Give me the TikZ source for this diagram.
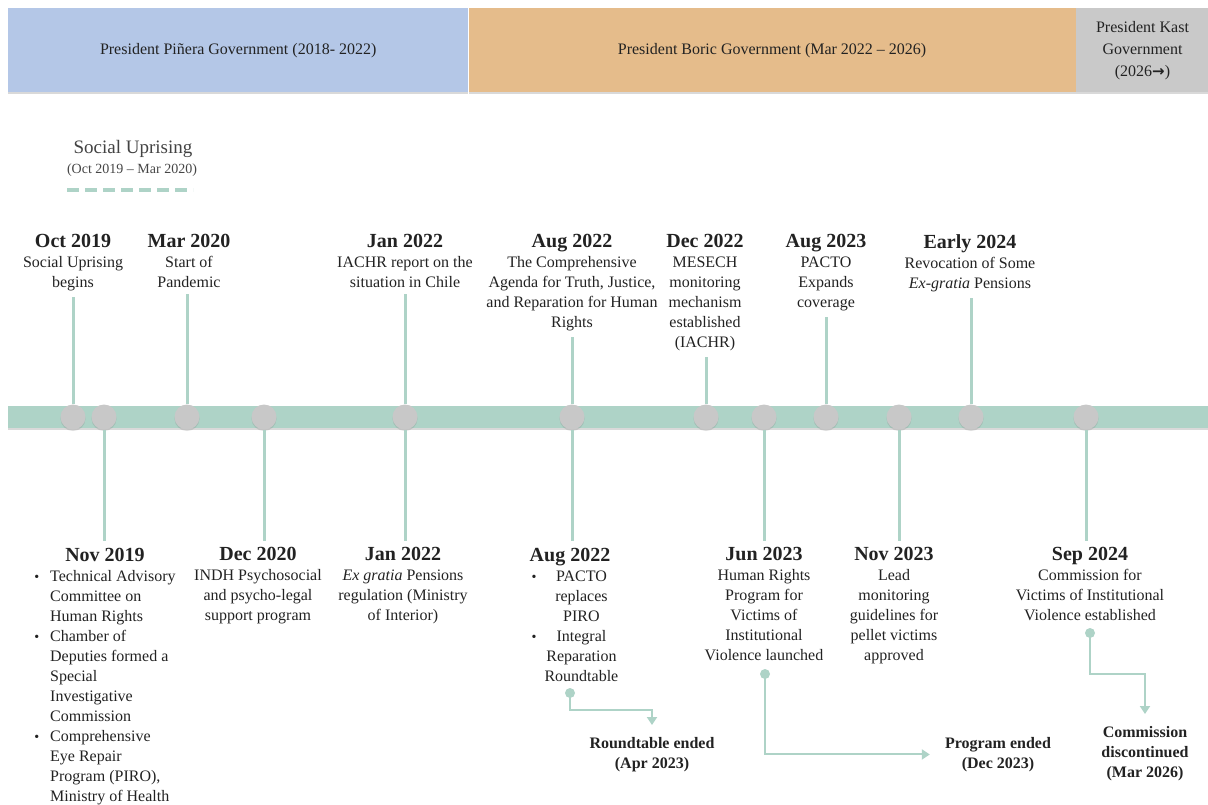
\documentclass[tikz,border=0pt]{standalone}
\usepackage{fontspec}
\setmainfont{Liberation Serif}
\newfontfamily\arrowfont{DejaVu Sans}
\usetikzlibrary{arrows.meta,shadows}
\definecolor{pinera}{RGB}{180,199,231}
\definecolor{boric}{RGB}{229,188,139}
\definecolor{kastgray}{RGB}{201,201,201}
\definecolor{lineteal}{RGB}{174,211,199}
\definecolor{knobgray}{RGB}{200,200,200}
\definecolor{ink}{RGB}{34,34,34}
\definecolor{softgray}{RGB}{70,70,70}
\newcommand{\evyear}[1]{{\fontsize{20}{20}\selectfont\bfseries #1}}
\newcommand{\bul}{{\fontsize{14}{20}\selectfont\textbullet}}

\begin{document}
\begin{tikzpicture}[x=1pt, y=-1pt,
  era/.style={anchor=north west, inner sep=0pt, minimum height=84pt, align=center,
    text=ink, font=\fontsize{16}{22}\selectfont,
    drop shadow={shadow xshift=0pt, shadow yshift=-2pt, opacity=0.3}},
  knob/.style={circle, fill=knobgray, minimum size=25pt, inner sep=0pt,
    drop shadow={shadow xshift=0pt, shadow yshift=-1.5pt, opacity=0.25}},
  event/.style={anchor=north, align=center, inner xsep=2pt, inner ysep=6pt,
    text=ink, font=\fontsize{16}{20}\selectfont},
  listevent/.style={anchor=north, inner xsep=0pt, inner ysep=6pt,
    text=ink, font=\fontsize{16}{20}\selectfont},
  stem/.style={draw=lineteal, line width=3pt},
  tick/.style={circle, fill=lineteal, minimum size=10pt, inner sep=0pt},
  link/.style={draw=lineteal, line width=2pt, -{Triangle[length=8pt,width=10pt]}},
  ended/.style={anchor=north, align=center, inner xsep=15pt, inner ysep=12pt,
    text=ink, font=\fontsize{16}{20}\selectfont\bfseries}
]
\useasboundingbox (0,0) rectangle (1208,804);

% governments
\node[era, fill=pinera, minimum width=460pt] (pinera) at (8,8) {President Piñera Government (2018- 2022)};
\node[era, fill=boric, minimum width=607pt] (boric) at (pinera.north east) {President Boric Government (Mar 2022 – 2026)};
\node[era, fill=kastgray, minimum width=133pt] (kast) at (boric.north east) {President Kast\\Government\\(2026{\arrowfont\bfseries\fontsize{15}{22}\selectfont →})};

% social uprising period
\node[anchor=base, text=ink!85, font=\fontsize{19}{22}\selectfont] (uprise) at (133,153) {Social Uprising};
\node[anchor=base, text=softgray, font=\fontsize{14}{16}\selectfont] (uprisedates) at (132,173) {(Oct 2019 – Mar 2020)};
\draw[lineteal, line width=4pt, dash pattern=on 12pt off 6pt] (67,190) -- (193,190);

% timeline
\node[anchor=west, fill=lineteal, minimum width=1200pt, minimum height=22pt, inner sep=0pt,
  drop shadow={shadow xshift=0pt, shadow yshift=-2pt, opacity=0.3}] (axis) at (8,417) {};

\node[knob] (koct19) at (73,417) {};
\node[knob] (knov19) at (104,417) {};
\node[knob] (kmar20) at (187,417) {};
\node[knob] (kdec20) at (264,417) {};
\node[knob] (kjan22) at (405,417) {};
\node[knob] (kaug22) at (572,417) {};
\node[knob] (kdec22) at (706,417) {};
\node[knob] (kjun23) at (764,417) {};
\node[knob] (kaug23) at (826,417) {};
\node[knob] (knov23) at (899,417) {};
\node[knob] (kearly24) at (971,417) {};
\node[knob] (ksep24) at (1086,417) {};

% events above
\node[event] (oct19) at (73,228) {\evyear{Oct 2019}\\Social Uprising\\begins};
\node[event] (mar20) at (189,228) {\evyear{Mar 2020}\\Start of\\Pandemic};
\node[event] (jan22a) at (405,228) {\evyear{Jan 2022}\\IACHR report on the\\situation in Chile};
\node[event] (aug22a) at (572,228) {\evyear{Aug 2022}\\The Comprehensive\\Agenda for Truth, Justice,\\and Reparation for Human\\Rights};
\node[event] (dec22) at (705,228) {\evyear{Dec 2022}\\MESECH\\monitoring\\mechanism\\established\\(IACHR)};
\node[event] (aug23) at (826,228) {\evyear{Aug 2023}\\PACTO\\Expands\\coverage};
\node[event] (early24) at (970,228) {\evyear{Early 2024}\\Revocation of Some\\\emph{Ex-gratia} Pensions};

% events below
\node[listevent] (nov19) at (105,541) {\begin{tabular}{@{}c@{\hspace{11pt}}l@{}}
  \multicolumn{2}{c}{\evyear{Nov 2019}}\\
  \bul & Technical Advisory\\
       & Committee on\\
       & Human Rights\\
  \bul & Chamber of\\
       & Deputies formed a\\
       & Special\\
       & Investigative\\
       & Commission\\
  \bul & Comprehensive\\
       & Eye Repair\\
       & Program (PIRO),\\
       & Ministry of Health
\end{tabular}};
\node[event] (dec20) at (258,541) {\evyear{Dec 2020}\\INDH Psychosocial\\and psycho-legal\\support program};
\node[event] (jan22b) at (403,541) {\evyear{Jan 2022}\\\emph{Ex gratia} Pensions\\regulation (Ministry\\of Interior)};
\node[listevent] (aug22b) at (575,541) {\begin{tabular}{@{}c@{\hspace{8pt}}c@{}}
  \multicolumn{2}{c}{\makebox[0pt]{\evyear{Aug 2022}\hspace*{10pt}}}\\
  \bul & PACTO\\
       & replaces\\
       & PIRO\\
  \bul & Integral\\
       & Reparation\\
       & Roundtable
\end{tabular}};
\node[event] (jun23) at (764,541) {\evyear{Jun 2023}\\Human Rights\\Program for\\Victims of\\Institutional\\Violence launched};
\node[event] (nov23) at (894,541) {\evyear{Nov 2023}\\Lead\\monitoring\\guidelines for\\pellet victims\\approved};
\node[event] (sep24) at (1090,541) {\evyear{Sep 2024}\\Commission for\\Victims of Institutional\\Violence established};

% stems
\draw[stem] (koct19.north) -- (koct19.north |- oct19.south);
\draw[stem] (kmar20.north) -- (kmar20.north |- mar20.south);
\draw[stem] (kjan22.north) -- (kjan22.north |- jan22a.south);
\draw[stem] (kaug22.north) -- (kaug22.north |- aug22a.south);
\draw[stem] (kdec22.north) -- (kdec22.north |- dec22.south);
\draw[stem] (kaug23.north) -- (kaug23.north |- aug23.south);
\draw[stem] (kearly24.north) -- (kearly24.north |- early24.south);
\draw[stem] (knov19.south) -- (knov19.south |- nov19.north);
\draw[stem] (kdec20.south) -- (kdec20.south |- dec20.north);
\draw[stem] (kjan22.south) -- (kjan22.south |- jan22b.north);
\draw[stem] (kaug22.south) -- (kaug22.south |- aug22b.north);
\draw[stem] (kjun23.south) -- (kjun23.south |- jun23.north);
\draw[stem] (knov23.south) -- (knov23.south |- nov23.north);
\draw[stem] (ksep24.south) -- (ksep24.south |- sep24.north);

% endings
\node[tick] (rtdot) at (570,693) {};
\node[ended] (rtend) at (652,725) {Roundtable ended\\(Apr 2023)};
\draw[link] (rtdot.center) -- ++(0,17) -| (rtend.north);

\node[tick] (pgdot) at (765,674) {};
\node[ended] (pgend) at (998,725) {Program ended\\(Dec 2023)};
\draw[link] (pgdot.center) |- (pgend.west);

\node[tick] (cmdot) at (1090,633) {};
\node[ended] (cmend) at (1145,714) {Commission\\discontinued\\(Mar 2026)};
\draw[link] (cmdot.center) -- ++(0,41) -| (cmend.north);
\end{tikzpicture}
\end{document}
